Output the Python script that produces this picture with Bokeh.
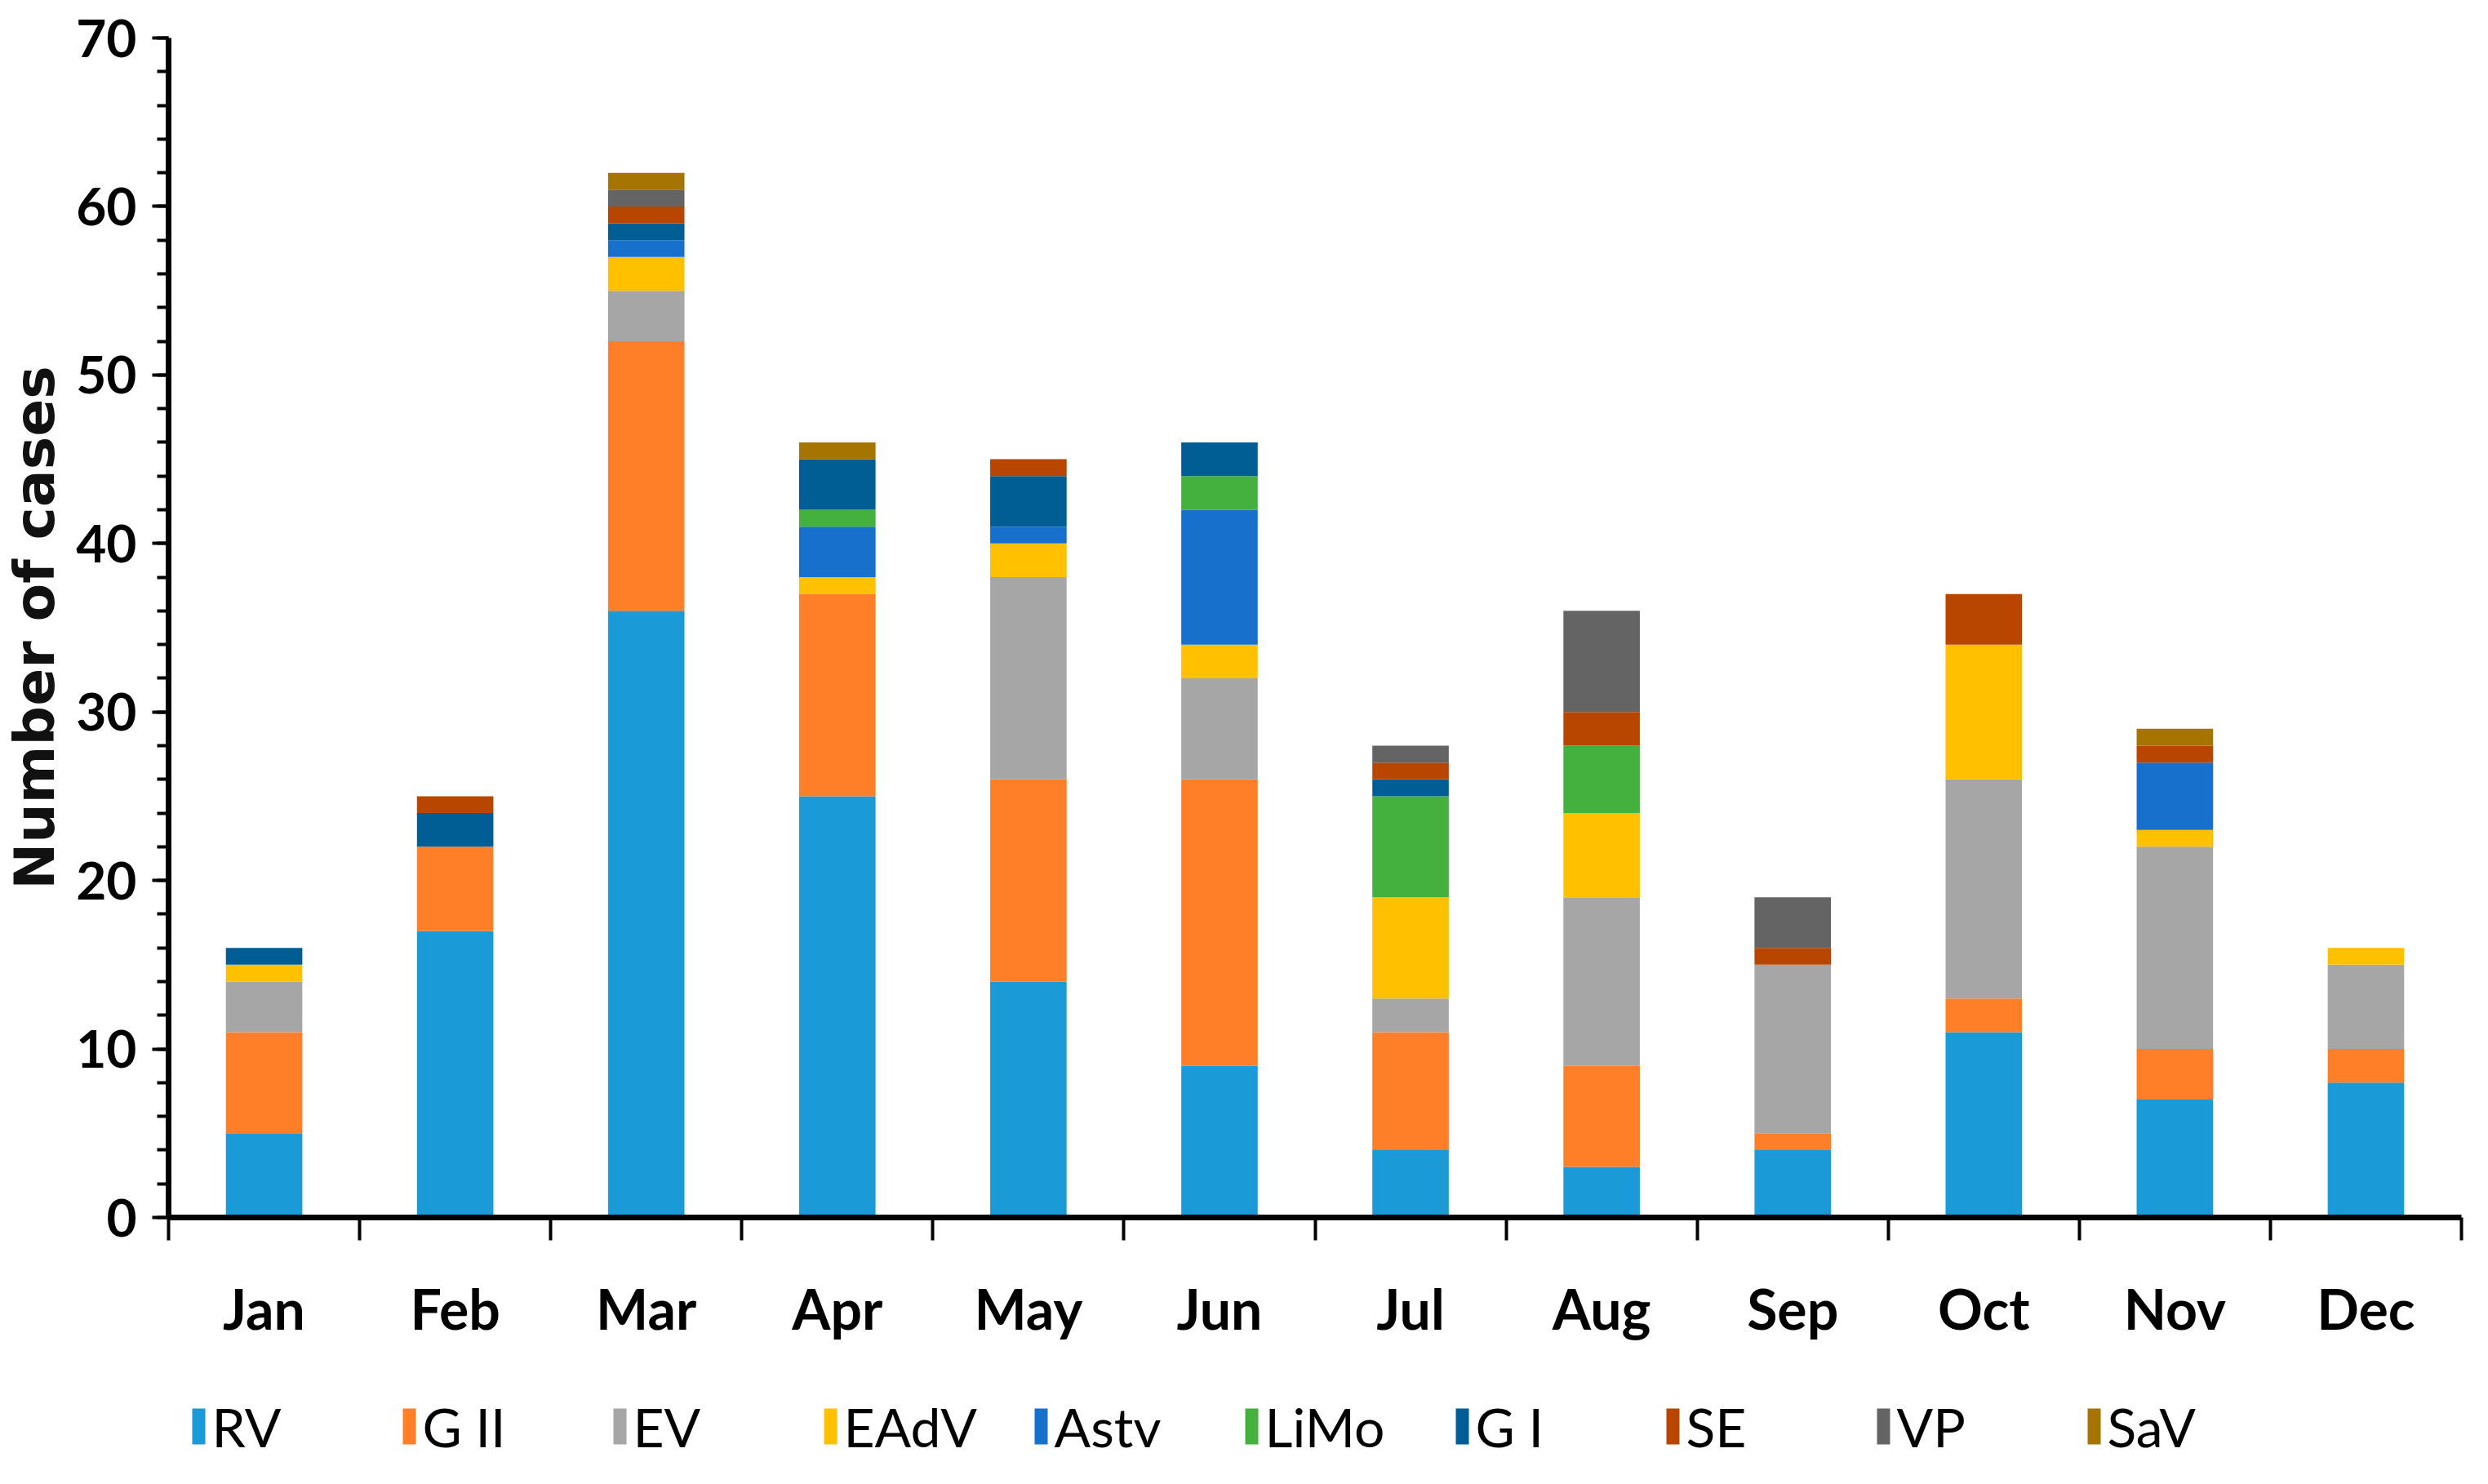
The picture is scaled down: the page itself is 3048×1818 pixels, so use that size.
from bokeh.plotting import figure
from bokeh.layouts import column
from bokeh.models import (ColumnDataSource, Range1d, LinearAxis,
                          FixedTicker, SingleIntervalTicker)
from bokeh.core.properties import value
from bokeh.embed import file_html
from bokeh.resources import INLINE

months = ["Jan", "Feb", "Mar", "Apr", "May", "Jun", "Jul", "Aug", "Sep", "Oct", "Nov", "Dec"]
series = ["RV", "G II", "EV", "EAdV", "Astv", "LiMo", "G I", "SE", "VP", "SaV"]

RV   = [5, 17, 36, 25, 14, 9, 4, 3, 4, 11, 7, 8]
GII  = [6, 5, 16, 12, 12, 17, 7, 6, 1, 2, 3, 2]
EV   = [3, 0, 3, 0, 12, 6, 2, 10, 10, 13, 12, 5]
EAdV = [1, 0, 2, 1, 2, 2, 6, 5, 0, 8, 1, 1]
Astv = [0, 0, 1, 3, 1, 8, 0, 0, 0, 0, 4, 0]
LiMo = [0, 0, 0, 1, 0, 2, 6, 4, 0, 0, 0, 0]
GI   = [1, 2, 1, 3, 3, 2, 1, 0, 0, 0, 0, 0]
SE   = [0, 1, 1, 0, 1, 0, 1, 2, 1, 3, 1, 0]
VP   = [0, 0, 1, 0, 0, 0, 1, 6, 3, 0, 0, 0]
SaV  = [0, 0, 1, 1, 0, 0, 0, 0, 0, 0, 1, 0]

colors = ["#1a9bd7", "#fe7f27", "#a6a6a6", "#ffc000", "#1770cc",
          "#44b03d", "#015e94", "#b84600", "#646464", "#a67400"]

keys = ["RV", "GII", "EV", "EAdV", "Astv", "LiMo", "GI", "SE", "VP", "SaV"]
n = len(months)
centers = [i + 0.5 for i in range(n)]
bounds = list(range(n + 1))
data = dict(x=centers, month=months, RV=RV, GII=GII, EV=EV, EAdV=EAdV, Astv=Astv,
            LiMo=LiMo, GI=GI, SE=SE, VP=VP, SaV=SaV)
source = ColumnDataSource(data)

FONT = "Lato"
LEFT, FW, RIGHT = 206, 2809, 15

p = figure(x_range=Range1d(0, n), y_range=Range1d(0, 70),
           frame_width=FW, frame_height=1445,
           min_border_left=LEFT, min_border_top=46, min_border_right=RIGHT, min_border_bottom=206,
           x_axis_location=None, y_axis_location=None,
           output_backend="svg", toolbar_location=None, background_fill_color="white")
p.outline_line_color = None
p.xgrid.visible = False
p.ygrid.visible = False

rs = p.vbar_stack(keys, x="x", width=0.4, color=colors, line_width=0, source=source)

# y axis
yax = LinearAxis(ticker=SingleIntervalTicker(interval=10, num_minor_ticks=5))
yax.axis_line_width = 7
yax.major_tick_line_width = 4
yax.minor_tick_line_width = 4
yax.major_tick_out = 20
yax.major_tick_in = 0
yax.minor_tick_out = 14
yax.minor_tick_in = 0
yax.major_label_standoff = 19
yax.major_label_text_font = FONT
yax.major_label_text_font_style = "bold"
yax.major_label_text_font_size = "64px"
yax.major_label_text_color = "black"
yax.axis_label = "Number of cases"
yax.axis_label_text_font = "DejaVu Sans"
yax.axis_label_text_font_style = "bold"
yax.axis_label_text_font_size = "68px"
yax.axis_label_text_color = "#111111"
yax.axis_label_standoff = 8
p.add_layout(yax, "left")

# x axis: labels at month centres, ticks at month boundaries
xl = LinearAxis(ticker=FixedTicker(ticks=centers, minor_ticks=bounds))
xl.major_label_overrides = {c: m for c, m in zip(centers, months)}
xl.axis_line_width = 7
xl.major_tick_line_color = None
xl.major_tick_out = 0
xl.major_tick_in = 0
xl.minor_tick_line_width = 4
xl.minor_tick_out = 28
xl.minor_tick_in = 0
xl.major_label_text_font = FONT
xl.major_label_text_font_style = "bold"
xl.major_label_text_font_size = "68px"
xl.major_label_text_color = "black"
xl.major_label_standoff = 42
p.add_layout(xl, "below")

# legend row (separate strip below the chart, in canvas-pixel units)
LH = 100
leg = figure(x_range=Range1d(LEFT, LEFT + FW), y_range=Range1d(0, LH),
             frame_width=FW, frame_height=LH,
             min_border_left=LEFT, min_border_right=RIGHT, min_border_top=0, min_border_bottom=0,
             x_axis_location=None, y_axis_location=None,
             output_backend="svg", toolbar_location=None, background_fill_color="white")
leg.outline_line_color = None
leg.xgrid.visible = False
leg.ygrid.visible = False
leg_step = 258
leg_x0 = 235
leg_x = [leg_x0 + i * leg_step for i in range(len(series))]
leg_src = ColumnDataSource(dict(sx=[v + 8 for v in leg_x], tx=[v + 24 for v in leg_x],
                                y=[LH / 2] * len(series), label=series, color=colors))
leg.rect(x="sx", y="y", width=16, height=44, color="color", line_width=0, source=leg_src)
leg.text(x="tx", y="y", text="label", text_baseline="middle", text_align="left",
         text_font=value(FONT), text_font_size="66px", text_color="black", source=leg_src)

layout = column(p, leg, spacing=0)
open("out.html", "w").write(file_html(layout, INLINE))
